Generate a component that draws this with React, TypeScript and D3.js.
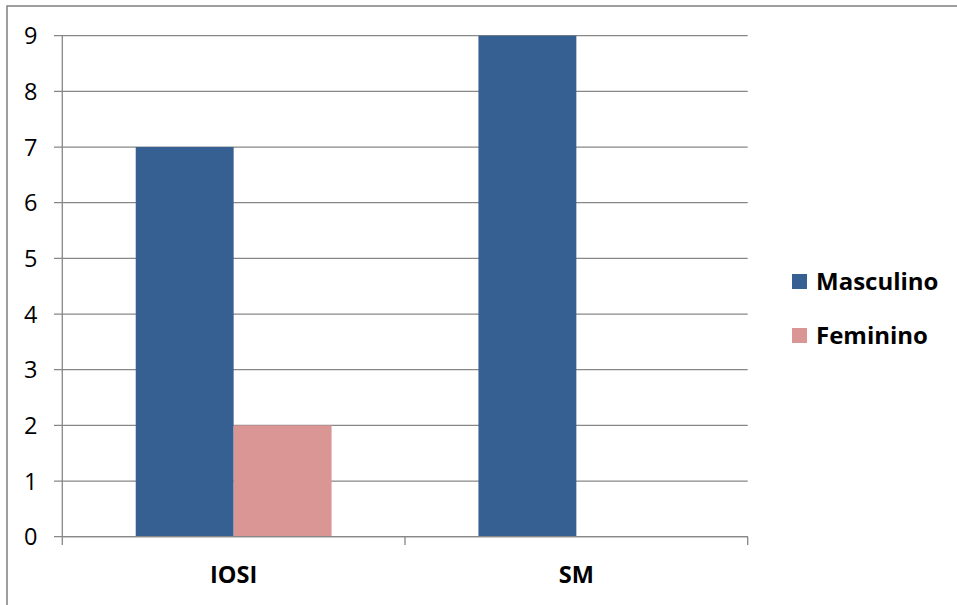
import React from "react";
import * as d3 from "d3";

const categories = ["IOSI", "SM"];
const seriesNames = ["Masculino", "Feminino"];
const masculino = [7, 9];
const feminino = [2, 0];
const yTicks = [0, 1, 2, 3, 4, 5, 6, 7, 8, 9];

const colors = ["#366092", "#D99694"];
const gridColor = "#878787";
const font = "'Open Sans', 'Liberation Sans', Arial, sans-serif";

export default function App() {
  const width = 957;
  const height = 605;
  const plot = { left: 62.3, right: 747.7, top: 35.7, bottom: 536.7 };

  const y = d3.scaleLinear().domain([0, 9]).range([plot.bottom, plot.top]);
  const x = d3
    .scaleBand<string>()
    .domain(categories)
    .range([plot.left, plot.right])
    .paddingInner(0)
    .paddingOuter(0);
  const band = x.bandwidth();
  // gap of 150% of a bar width split around each group
  const barW = band / (seriesNames.length + 1.5);
  const groupOffset = (band - barW * seriesNames.length) / 2;

  const values = [masculino, feminino];

  return (
    <svg
      width={width}
      height={height}
      style={{ position: "absolute", left: 0, top: 0, background: "#fff" }}
    >
      <rect x={7} y={6} width={width + 10} height={height + 10} fill="#fff" stroke={gridColor} strokeWidth={1.6} />

      {yTicks.map((t) => (
        <g key={t}>
          <line x1={54} x2={plot.right} y1={y(t)} y2={y(t)} stroke={gridColor} strokeWidth={1.3} />
          <text
            x={37.5}
            y={y(t) + 8.5}
            textAnchor="end"
            fontFamily={font}
            fontSize={23.5}
            fill="#000"
          >
            {t}
          </text>
        </g>
      ))}

      {categories.map((c, ci) =>
        values.map((vals, si) =>
          vals[ci] > 0 ? (
            <rect
              key={`${c}-${si}`}
              x={(x(c) as number) + groupOffset + si * barW}
              y={y(vals[ci])}
              width={barW}
              height={y(0) - y(vals[ci])}
              fill={colors[si]}
            />
          ) : null
        )
      )}

      <line x1={plot.left} x2={plot.left} y1={plot.top} y2={plot.bottom} stroke={gridColor} strokeWidth={1.3} />
      <line x1={plot.left} x2={plot.right} y1={plot.bottom} y2={plot.bottom} stroke={gridColor} strokeWidth={1.3} />
      {[...categories.map((c) => x(c) as number), plot.right].map((px, i) => (
        <line key={i} x1={px} x2={px} y1={plot.bottom} y2={545} stroke={gridColor} strokeWidth={1.3} />
      ))}

      {categories.map((c) => (
        <text
          key={c}
          x={(x(c) as number) + band / 2}
          y={582.5}
          textAnchor="middle"
          fontFamily={font}
          fontWeight="bold"
          fontSize={23.5}
          fill="#000"
        >
          {c}
        </text>
      ))}

      {seriesNames.map((s, i) => (
        <g key={s}>
          <rect x={792} y={274 + i * 54} width={15} height={15} fill={colors[i]} />
          <text x={816} y={289.5 + i * 54} fontFamily={font} fontWeight="bold" fontSize={24} fill="#000">
            {s}
          </text>
        </g>
      ))}
    </svg>
  );
}
